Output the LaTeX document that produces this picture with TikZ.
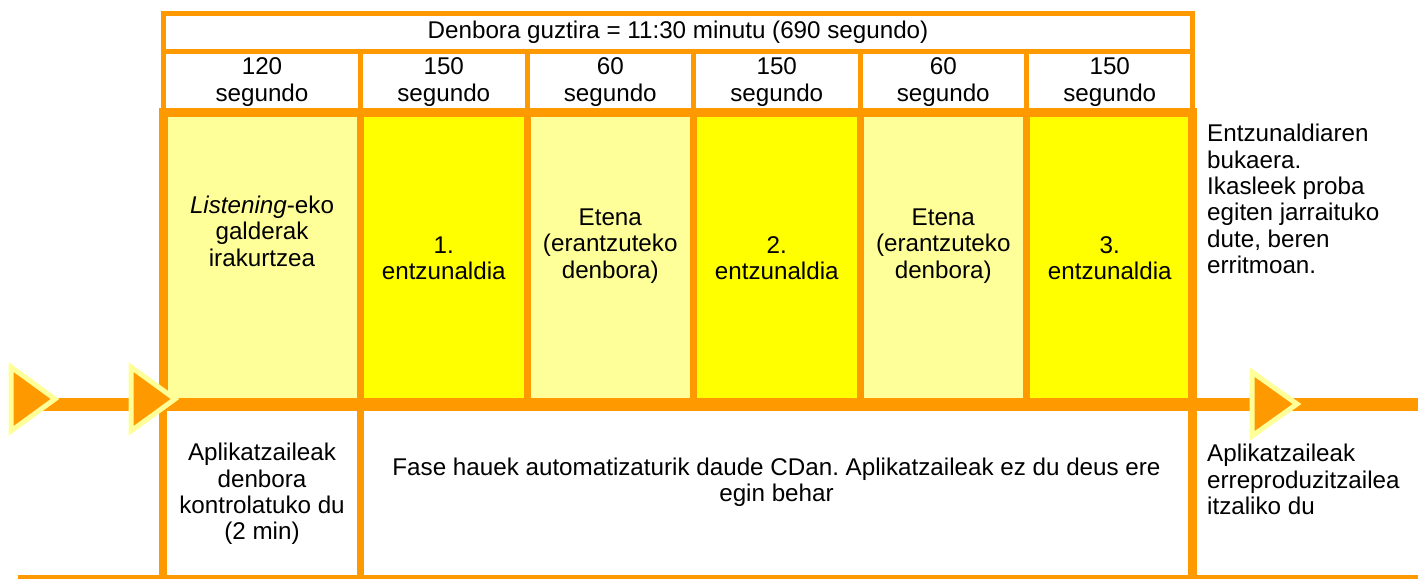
\documentclass[tikz,border=0pt]{standalone}
\usepackage{fontspec}
\setmainfont{Liberation Sans}
\usetikzlibrary{positioning}
\definecolor{naranja}{HTML}{FF9900}
\definecolor{amarilloclaro}{HTML}{FFFF99}
\definecolor{amarillo}{HTML}{FFFF00}
\frenchspacing
\tikzset{
  texto/.style={align=center, inner sep=0pt, font=\fontsize{24.2}{26.4}\selectfont},
  textolibre/.style={texto, align=left, anchor=north west},
  flecha/.style={fill=naranja, draw=amarilloclaro, line width=5pt},
}

\begin{document}
\begin{tikzpicture}[x=1pt, y=-1pt]
\useasboundingbox (0,0) rectangle (1418,578);
% Columnas (relleno)
\fill[amarilloclaro] (163,112.5) rectangle (360.5,404.5);
\foreach \i/\c in {0/amarillo,1/amarilloclaro,2/amarillo,3/amarilloclaro,4/amarillo} {
  \fill[\c] ({360.5+166.5*\i},112.5) rectangle ({527+166.5*\i},404.5);
}
% Cabecera
\draw[naranja, line width=5pt] (163.5,13.5) rectangle (1192.5,112.5);
\draw[naranja, line width=5pt] (163.5,51.5) -- (1192.5,51.5);
\foreach \x in {360.5,527,693.5,860,1026.5} {
  \draw[naranja, line width=5pt] (\x,51.5) -- (\x,112.5);
}
% Bloque central
\draw[naranja, line width=9pt] (163.5,404.5) -- (163.5,112.5) -- (1192.5,112.5) -- (1192.5,404.5);
\foreach \x in {360.5,527,693.5,860,1026.5} {
  \draw[naranja, line width=7pt] (\x,112.5) -- (\x,404.5);
}
% Parte inferior
\draw[naranja, line width=8pt] (163,404.5) -- (163,578);
\draw[naranja, line width=7pt] (360.5,404.5) -- (360.5,578);
\draw[naranja, line width=9pt] (1192.5,404.5) -- (1192.5,578);
\draw[naranja, line width=4pt] (18,577) -- (1418,577);
% Eje
\draw[naranja, line width=13pt] (20,404.5) -- (1418,404.5);
\draw[flecha] (11,367) -- (55,399) -- (11,431) -- cycle;
\draw[flecha] (131,367) -- (175,399) -- (131,431) -- cycle;
\draw[flecha] (1252,372) -- (1297,404) -- (1252,436) -- cycle;
% Textos
\node[texto] (total) at (678,32) {Denbora guztira = 11:30 minutu (690 segundo)};
\foreach \x/\s/\n in {262/120/t1, 443.75/150/t2, 610.25/60/t3, 776.75/150/t4, 943.25/60/t5, 1109.75/150/t6} {
  \node[texto] (\n) at (\x,82) {\s\\segundo};
}
\node[texto] (c1) at (262,231) {\textit{Listening}-eko\\galderak\\irakurtzea};
\node[texto] (c2) at (443.75,258) {1.\\entzunaldia};
\node[texto] (c3) at (610.25,246) {Etena\\(erantzuteko\\denbora)};
\node[texto] (c4) at (776.75,258) {2.\\entzunaldia};
\node[texto] (c5) at (943.25,246) {Etena\\(erantzuteko\\denbora)};
\node[texto] (c6) at (1109.75,258) {3.\\entzunaldia};
\node[textolibre] (fin) at (1207,124) {Entzunaldiaren\\bukaera.\\Ikasleek proba\\egiten jarraituko\\dute, beren\\erritmoan.};
\node[texto] (aplik) at (262,494) {Aplikatzaileak\\denbora\\kontrolatuko du\\(2 min)};
\node[texto] (fase) at (776.5,482) {Fase hauek automatizaturik daude CDan. Aplikatzaileak ez du deus ere\\egin behar};
\node[textolibre] (itzali) at (1207,444) {Aplikatzaileak\\erreproduzitzailea\\itzaliko du};
\end{tikzpicture}
\end{document}
